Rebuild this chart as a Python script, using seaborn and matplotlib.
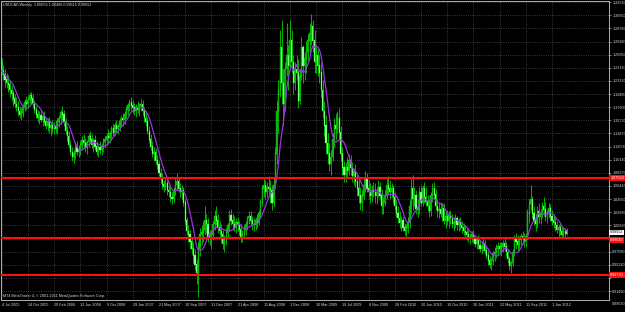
import numpy as np
import pandas as pd
import matplotlib
matplotlib.use("Agg")
import matplotlib.pyplot as plt
import matplotlib.transforms as mtransforms
import seaborn as sns

title_text = "USDCAD,Weekly  1.00056 1.00486 0.99515 0.99552"
copyright_text = "MT4 MetaTrader 4, \u00a9 2001-2011 MetaQuotes Software Corp."

opens = [
    1.240,1.228,1.222,1.215,1.210,1.208,1.200,1.195,1.188,1.180,1.176,1.170,1.165,1.168,1.175,1.182,
    1.180,1.186,1.192,1.188,1.180,1.172,1.165,1.160,1.164,1.158,1.162,1.155,1.150,1.155,1.146,1.150,
    1.145,1.148,1.145,1.155,1.160,1.168,1.165,1.155,1.142,1.135,1.122,1.112,1.105,1.110,1.118,1.112,
    1.115,1.122,1.128,1.125,1.118,1.126,1.135,1.130,1.122,1.128,1.120,1.112,1.118,1.115,1.120,1.126,
    1.130,1.135,1.132,1.138,1.145,1.140,1.150,1.145,1.148,1.156,1.160,1.158,1.166,1.172,1.178,1.182,
    1.178,1.175,1.170,1.176,1.172,1.178,1.180,1.170,1.160,1.155,1.142,1.130,1.120,1.110,1.112,1.100,
    1.094,1.082,1.075,1.066,1.062,1.068,1.058,1.055,1.048,1.045,1.058,1.065,1.070,1.060,1.055,1.058,
    1.040,1.015,1.000,0.995,0.985,0.975,0.965,0.952,0.940,0.975,0.995,0.998,1.002,1.015,1.010,0.992,
    0.990,0.995,1.010,1.020,1.015,1.005,1.000,0.995,0.982,0.988,0.998,1.008,1.022,1.015,1.010,1.005,
    1.012,1.008,1.002,0.992,0.995,1.002,1.010,1.018,1.020,1.015,1.010,1.008,1.015,1.012,1.025,1.040,
    1.060,1.065,1.055,1.062,1.060,1.058,1.040,1.065,1.110,1.170,1.200,1.260,1.210,1.180,1.230,1.250,
    1.235,1.270,1.240,1.210,1.230,1.225,1.185,1.220,1.260,1.235,1.245,1.255,1.270,1.280,1.290,1.270,
    1.240,1.250,1.235,1.225,1.200,1.170,1.150,1.125,1.110,1.095,1.105,1.130,1.150,1.145,1.160,1.140,
    1.110,1.090,1.080,1.090,1.085,1.100,1.090,1.078,1.085,1.070,1.060,1.050,1.040,1.050,1.065,1.075,
    1.060,1.055,1.050,1.058,1.055,1.050,1.055,1.062,1.050,1.035,1.040,1.050,1.065,1.060,1.055,1.060,
    1.048,1.035,1.025,1.018,1.012,1.015,1.005,1.000,1.005,1.012,1.035,1.060,1.045,1.050,1.032,1.030,
    1.055,1.040,1.060,1.048,1.042,1.035,1.028,1.050,1.060,1.052,1.035,1.028,1.030,1.025,1.032,1.015,
    1.020,1.015,1.022,1.018,1.010,1.012,1.018,1.008,1.012,1.008,1.005,1.000,0.998,0.995,0.990,0.992,
    0.995,0.990,0.982,0.988,0.980,0.975,0.978,0.982,0.972,0.965,0.958,0.952,0.958,0.968,0.970,0.975,
    0.978,0.975,0.978,0.982,0.978,0.970,0.960,0.950,0.955,0.970,0.988,0.985,0.980,0.988,0.992,0.990,
    0.985,0.992,1.025,1.038,1.045,1.025,1.015,1.010,1.028,1.020,1.025,1.035,1.030,1.020,1.025,1.032,
    1.020,1.015,1.012,1.008,1.002,1.005,1.000,0.995,1.000,1.0006,
]
highs = [
    1.246,1.236,1.230,1.225,1.222,1.215,1.208,1.200,1.195,1.190,1.185,1.178,1.175,1.180,1.188,1.192,
    1.192,1.197,1.198,1.195,1.186,1.178,1.172,1.170,1.172,1.166,1.170,1.162,1.160,1.162,1.155,1.158,
    1.155,1.158,1.160,1.165,1.172,1.178,1.172,1.160,1.150,1.142,1.130,1.120,1.115,1.125,1.128,1.122,
    1.128,1.135,1.138,1.132,1.130,1.140,1.142,1.138,1.132,1.136,1.128,1.122,1.128,1.125,1.132,1.135,
    1.140,1.145,1.142,1.150,1.152,1.155,1.158,1.152,1.160,1.165,1.168,1.170,1.178,1.182,1.188,1.190,
    1.186,1.182,1.180,1.185,1.182,1.188,1.186,1.176,1.170,1.162,1.150,1.138,1.128,1.120,1.118,1.108,
    1.100,1.090,1.082,1.072,1.075,1.072,1.066,1.062,1.055,1.062,1.075,1.082,1.076,1.068,1.065,1.062,
    1.045,1.020,1.008,1.002,0.992,0.985,0.975,0.960,0.985,1.005,1.008,1.015,1.035,1.025,1.018,1.002,
    1.002,1.015,1.030,1.035,1.025,1.015,1.010,1.002,0.995,1.005,1.012,1.030,1.032,1.025,1.022,1.018,
    1.020,1.015,1.010,1.002,1.008,1.015,1.022,1.028,1.028,1.022,1.018,1.020,1.025,1.030,1.045,1.065,
    1.075,1.072,1.070,1.078,1.072,1.065,1.075,1.120,1.185,1.215,1.285,1.300,1.230,1.240,1.295,1.265,
    1.300,1.285,1.250,1.240,1.250,1.245,1.230,1.275,1.265,1.255,1.270,1.280,1.295,1.308,1.300,1.285,
    1.265,1.260,1.250,1.240,1.215,1.185,1.165,1.140,1.125,1.115,1.140,1.160,1.168,1.170,1.175,1.150,
    1.120,1.100,1.098,1.105,1.110,1.108,1.098,1.090,1.095,1.080,1.075,1.062,1.058,1.075,1.085,1.082,
    1.072,1.068,1.065,1.070,1.068,1.062,1.072,1.070,1.060,1.048,1.058,1.075,1.078,1.072,1.068,1.065,
    1.055,1.045,1.035,1.028,1.022,1.020,1.012,1.010,1.020,1.045,1.075,1.080,1.062,1.058,1.045,1.062,
    1.065,1.065,1.070,1.062,1.052,1.045,1.055,1.068,1.070,1.060,1.045,1.040,1.042,1.038,1.040,1.028,
    1.030,1.028,1.030,1.025,1.020,1.025,1.022,1.018,1.020,1.015,1.012,1.008,1.005,1.002,0.998,1.000,
    1.002,0.995,0.992,0.995,0.988,0.985,0.990,0.988,0.980,0.972,0.965,0.962,0.972,0.978,0.982,0.985,
    0.985,0.985,0.988,0.990,0.985,0.975,0.965,0.958,0.975,0.995,0.998,0.995,0.992,0.998,1.000,0.998,
    0.998,1.032,1.045,1.066,1.050,1.035,1.025,1.035,1.040,1.032,1.042,1.048,1.042,1.030,1.040,1.038,
    1.030,1.025,1.020,1.015,1.010,1.012,1.006,1.005,1.004,1.0049,
]
lows = [
    1.222,1.215,1.205,1.203,1.198,1.190,1.185,1.178,1.175,1.170,1.163,1.160,1.158,1.162,1.170,1.172,
    1.175,1.180,1.180,1.175,1.168,1.160,1.155,1.152,1.155,1.150,1.152,1.145,1.142,1.140,1.135,1.140,
    1.138,1.140,1.138,1.148,1.152,1.158,1.150,1.138,1.128,1.118,1.108,1.100,1.097,1.102,1.108,1.105,
    1.108,1.115,1.118,1.112,1.110,1.120,1.125,1.118,1.112,1.115,1.108,1.105,1.110,1.108,1.112,1.118,
    1.122,1.125,1.125,1.130,1.135,1.135,1.140,1.138,1.142,1.148,1.150,1.152,1.160,1.165,1.170,1.172,
    1.168,1.165,1.162,1.168,1.163,1.170,1.165,1.155,1.150,1.138,1.125,1.115,1.105,1.100,1.095,1.088,
    1.078,1.068,1.060,1.055,1.058,1.052,1.048,1.042,1.038,1.040,1.052,1.058,1.055,1.048,1.045,1.035,
    1.010,0.995,0.985,0.975,0.968,0.955,0.945,0.925,0.906,0.965,0.980,0.985,0.995,0.998,0.985,0.980,
    0.975,0.988,1.002,1.008,0.998,0.992,0.985,0.975,0.970,0.980,0.990,1.000,1.008,1.002,1.000,0.998,
    1.000,0.995,0.985,0.985,0.990,0.995,1.002,1.010,1.008,1.002,1.000,1.002,1.005,1.008,1.018,1.035,
    1.048,1.045,1.048,1.052,1.040,1.030,1.035,1.060,1.095,1.140,1.190,1.180,1.150,1.170,1.220,1.200,
    1.230,1.225,1.195,1.200,1.215,1.175,1.180,1.215,1.210,1.215,1.225,1.240,1.250,1.265,1.255,1.225,
    1.225,1.220,1.210,1.190,1.160,1.135,1.110,1.095,1.085,1.080,1.100,1.120,1.130,1.140,1.130,1.100,
    1.080,1.070,1.070,1.075,1.080,1.080,1.070,1.065,1.062,1.050,1.040,1.030,1.028,1.045,1.055,1.055,
    1.045,1.040,1.042,1.048,1.040,1.038,1.048,1.045,1.025,1.025,1.035,1.045,1.052,1.045,1.048,1.040,
    1.030,1.020,1.012,1.005,1.000,1.000,0.995,0.992,0.998,1.005,1.025,1.030,1.035,1.025,1.020,1.025,
    1.035,1.035,1.040,1.035,1.028,1.020,1.022,1.042,1.045,1.030,1.020,1.018,1.020,1.015,1.010,1.005,
    1.008,1.005,1.010,1.005,1.000,1.005,1.002,1.000,1.002,0.998,0.995,0.990,0.988,0.985,0.982,0.985,
    0.985,0.978,0.975,0.975,0.970,0.968,0.972,0.968,0.962,0.952,0.948,0.945,0.952,0.958,0.962,0.965,
    0.968,0.965,0.970,0.972,0.965,0.955,0.945,0.941,0.950,0.965,0.975,0.972,0.975,0.980,0.982,0.978,
    0.978,0.988,1.012,1.030,1.018,1.008,1.000,1.005,1.012,1.010,1.018,1.022,1.015,1.012,1.018,1.015,
    1.008,1.005,1.000,0.998,0.992,0.995,0.990,0.990,0.992,0.9952,
]
closes = [
    1.228,1.222,1.215,1.210,1.208,1.200,1.195,1.188,1.180,1.176,1.170,1.165,1.168,1.175,1.182,1.180,
    1.186,1.192,1.188,1.180,1.172,1.165,1.160,1.164,1.158,1.162,1.155,1.150,1.155,1.146,1.150,1.145,
    1.148,1.145,1.155,1.160,1.168,1.165,1.155,1.142,1.135,1.122,1.112,1.105,1.110,1.118,1.112,1.115,
    1.122,1.128,1.125,1.118,1.126,1.135,1.130,1.122,1.128,1.120,1.112,1.118,1.115,1.120,1.126,1.130,
    1.135,1.132,1.138,1.145,1.140,1.150,1.145,1.148,1.156,1.160,1.158,1.166,1.172,1.178,1.182,1.178,
    1.175,1.170,1.176,1.172,1.178,1.180,1.170,1.160,1.155,1.142,1.130,1.120,1.110,1.112,1.100,1.094,
    1.082,1.075,1.066,1.062,1.068,1.058,1.055,1.048,1.045,1.058,1.065,1.070,1.060,1.055,1.058,1.040,
    1.015,1.000,0.995,0.985,0.975,0.965,0.952,0.940,0.975,0.995,0.998,1.002,1.015,1.010,0.992,0.990,
    0.995,1.010,1.020,1.015,1.005,1.000,0.995,0.982,0.988,0.998,1.008,1.022,1.015,1.010,1.005,1.012,
    1.008,1.002,0.992,0.995,1.002,1.010,1.018,1.020,1.015,1.010,1.008,1.015,1.012,1.025,1.040,1.060,
    1.065,1.055,1.062,1.060,1.058,1.040,1.065,1.110,1.170,1.200,1.260,1.210,1.180,1.230,1.250,1.235,
    1.270,1.240,1.210,1.230,1.225,1.185,1.220,1.260,1.235,1.245,1.255,1.270,1.280,1.290,1.270,1.240,
    1.250,1.235,1.225,1.200,1.170,1.150,1.125,1.110,1.095,1.105,1.130,1.150,1.145,1.160,1.140,1.110,
    1.090,1.080,1.090,1.085,1.100,1.090,1.078,1.085,1.070,1.060,1.050,1.040,1.050,1.065,1.075,1.060,
    1.055,1.050,1.058,1.055,1.050,1.055,1.062,1.050,1.035,1.040,1.050,1.065,1.060,1.055,1.060,1.048,
    1.035,1.025,1.018,1.012,1.015,1.005,1.000,1.005,1.012,1.035,1.060,1.045,1.050,1.032,1.030,1.055,
    1.040,1.060,1.048,1.042,1.035,1.028,1.050,1.060,1.052,1.035,1.028,1.030,1.025,1.032,1.015,1.020,
    1.015,1.022,1.018,1.010,1.012,1.018,1.008,1.012,1.008,1.005,1.000,0.998,0.995,0.990,0.992,0.995,
    0.990,0.982,0.988,0.980,0.975,0.978,0.982,0.972,0.965,0.958,0.952,0.958,0.968,0.970,0.975,0.978,
    0.975,0.978,0.982,0.978,0.970,0.960,0.950,0.955,0.970,0.988,0.985,0.980,0.988,0.992,0.990,0.985,
    0.992,1.025,1.038,1.045,1.025,1.015,1.010,1.028,1.020,1.025,1.035,1.030,1.020,1.025,1.032,1.020,
    1.015,1.012,1.008,1.002,1.005,1.000,0.995,1.000,0.996,0.9955,
]

date_labels = ["4 Jul 2005", "24 Oct 2005", "20 Feb 2006", "12 Jun 2006", "9 Oct 2006",
               "29 Jan 2007", "21 May 2007", "10 Sep 2007", "31 Dec 2007", "21 Apr 2008",
               "11 Aug 2008", "1 Dec 2008", "30 Mar 2009", "19 Jul 2009", "8 Nov 2009",
               "28 Feb 2010", "20 Jun 2010", "10 Oct 2010", "30 Jan 2011", "22 May 2011",
               "11 Sep 2011", "1 Jan 2012"]
bars_per_label = 16

price_ticks = [0.91490, 0.93360, 0.95220, 0.97090, 0.98950, 1.00820, 1.02680, 1.04550,
               1.06410, 1.08270, 1.10140, 1.12000, 1.13870, 1.15730, 1.17600, 1.19460,
               1.21320, 1.23190, 1.25050, 1.26920, 1.28780, 1.30650, 1.32510]
bottom_tick = 0.89630
level_lines = [1.07550, 0.99030, 0.93770]
current_price = 0.99552
ma_period = 8

df = pd.DataFrame({"o": opens, "h": highs, "l": lows, "c": closes})
df["bar"] = np.arange(len(df))
df["ma"] = df["c"].rolling(ma_period, min_periods=1).mean()

sns.set_style("dark")
plt.rcParams["font.family"] = ["Liberation Sans", "DejaVu Sans"]

W, H = 625, 312
fig = plt.figure(figsize=(W / 100, H / 100), dpi=100, facecolor="black")
ax = fig.add_axes([1 / W, 12 / H, 608 / W, 299 / H])
ax.set_facecolor("black")

fs = 2.7
txt_col = "#d8d8d8"
grid_col = "#6e6e6e"

# grid
for p in price_ticks:
    ax.axhline(p, color=grid_col, lw=0.5, dashes=(1, 2.2), zorder=0)
xt = np.arange(len(date_labels)) * bars_per_label
for x in xt:
    ax.axvline(x, color=grid_col, lw=0.5, dashes=(1, 2.2), zorder=0)

# candles
up = df["c"] >= df["o"]
ax.vlines(df["bar"], df["l"], df["h"], color="#00e000", lw=0.55, zorder=2)
ax.bar(df["bar"][up], (df["c"] - df["o"])[up].abs() + 0.0008, bottom=df[["o", "c"]].min(axis=1)[up],
       width=0.7, color="#1a8f1a", edgecolor="#00ff00", linewidth=0.25, zorder=3)
ax.bar(df["bar"][~up], (df["c"] - df["o"])[~up].abs() + 0.0008, bottom=df[["o", "c"]].min(axis=1)[~up],
       width=0.7, color="#a8ffa8", edgecolor="#00ff00", linewidth=0.25, zorder=3)

# moving average
sns.lineplot(data=df, x="bar", y="ma", ax=ax, color="#9a35e0", lw=0.9, zorder=4, legend=False)

# level lines
for lv in level_lines:
    ax.axhline(lv, color="#ff1010", lw=1.5, zorder=5)

ax.set_xlim(-0.43, 370.8)
ax.set_ylim(0.9022, 1.3268)

ax.set_xticks(xt)
ax.set_xticklabels(date_labels)
for lab in ax.get_xticklabels():
    lab.set_horizontalalignment("left")
ax.yaxis.tick_right()
ax.set_yticks(price_ticks)
# price labels that sit under a level-line box or the current-price box are hidden by them
marked = level_lines + [current_price]
ax.set_yticklabels(["" if min(abs(p - m) for m in marked) < 0.006 else f"{p:.5f}"
                    for p in price_ticks])
ax.tick_params(axis="both", colors="#b0b0b0", labelcolor=txt_col, labelsize=fs,
               length=1.5, width=0.5, pad=0.8)
ax.set_xlabel("")
ax.set_ylabel("")
ax.grid(False)
for s in ax.spines.values():
    s.set_color("#b0b0b0")
    s.set_linewidth(0.7)

trans = mtransforms.blended_transform_factory(ax.transAxes, ax.transData)
ax.text(1.004, bottom_tick, f"{bottom_tick:.5f}", transform=trans, ha="left", va="center",
        fontsize=fs, color=txt_col, clip_on=False)
for lv in level_lines:
    va = "top" if abs(lv - current_price) < 0.01 else "center"
    ax.text(1.002, lv, f"{lv:.5f}", transform=trans, ha="left", va=va, fontsize=fs,
            color="white", clip_on=False, zorder=6,
            bbox=dict(boxstyle="square,pad=0.2", fc="#ff1010", ec="none"))
ax.text(1.002, current_price, f"{current_price:.5f}", transform=trans, ha="left", va="bottom",
        fontsize=fs, color="black", clip_on=False, zorder=7,
        bbox=dict(boxstyle="square,pad=0.2", fc="white", ec="none"))

ax.text(0.003, 0.992, title_text, transform=ax.transAxes, ha="left", va="top",
        fontsize=fs, color=txt_col, zorder=8)
ax.text(0.003, 0.008, copyright_text, transform=ax.transAxes, ha="left", va="bottom",
        fontsize=fs, color=txt_col, zorder=8)

fig.savefig("out.png", dpi=100, facecolor="black")
